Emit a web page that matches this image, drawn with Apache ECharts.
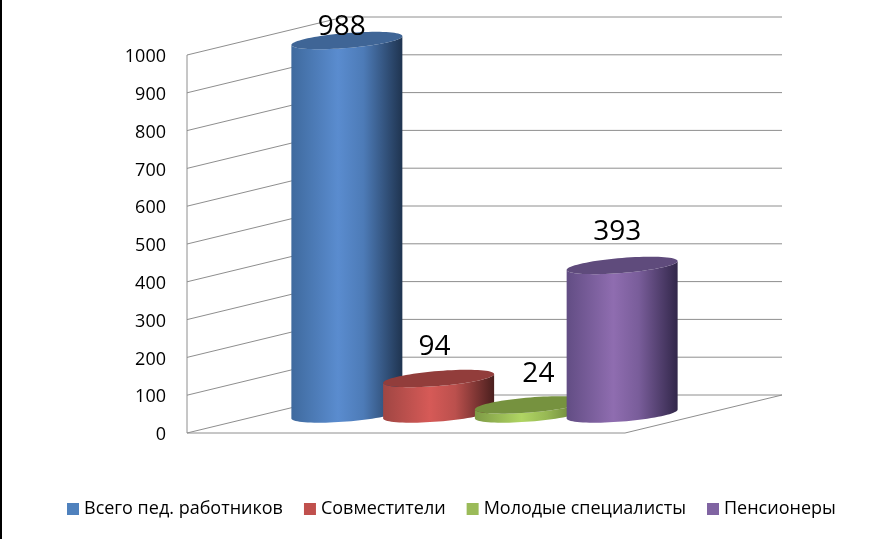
<!DOCTYPE html>
<html><head><meta charset="utf-8">
<style>html,body{margin:0;padding:0;background:#fff}#c{width:896px;height:539px}</style>
<script src="https://cdn.jsdelivr.net/npm/echarts@6/dist/echarts.min.js"></script>
</head><body><div id="c"></div>
<script>
const seriesNames = ['Всего пед. работников','Совместители','Молодые специалисты','Пенсионеры'];
const seriesValues = [988, 94, 24, 393];
const seriesColors = ['#4f81bd','#c0504d','#9bbb59','#8064a2'];
const tickValues = [0,100,200,300,400,500,600,700,800,900,1000];

const DX = 157, DY = 38, GAP = 0.2095, W = 0.2534;
const grads = [
  ['#3f6a9e','#5a8ccf','#1f3450','#3f6596'],
  ['#a04643','#d65a57','#4a1f1e','#923d3b'],
  ['#7d9a45','#b0d563','#5a7030','#76923f'],
  ['#624d84','#8f6db0','#32274a','#5f4b7c']
];
const labelOff = [[-5,-14],[-4,-31],[8,-31],[-5,-33]];
const chart = echarts.init(document.getElementById('c'), null, {renderer:'canvas'});

function ell(cx,cy,a,b,s,from,to,n){
  const p=[];
  for(let k=0;k<=n;k++){const t=from+(to-from)*k/n;
    const x=a*Math.cos(t);
    p.push([cx+x, cy+b*Math.sin(t)-s*x]);}
  return p;
}
function cylinder(i){
  return function(params, api){
    const cs=params.coordSys;
    const band=cs.width;
    const base=api.coord([0,0]);
    const top=api.coord([0,api.value(1)]);
    const cx=cs.x+band/2+(i-1.5)*band*GAP+DX/2;
    const a=band*W/2, b=7.5, s=0.08;
    const by=base[1]-DY/2, ty=top[1]-DY/2;
    const bottomArc=ell(cx,by,a,b,s,Math.PI,0,40);
    const topBack=ell(cx,ty,a,b,s,0,Math.PI,40);
    const g=grads[i];
    const side=new echarts.graphic.LinearGradient(0,0,1,0,[
      {offset:0,color:g[0]},{offset:0.42,color:g[1]},{offset:0.65,color:echarts.color.lerp(0.5,[g[1],g[0]])},{offset:1,color:g[2]}]);
    return {type:'group',children:[
      {type:'polygon',shape:{points:bottomArc.concat(topBack)},style:{fill:side}},
      {type:'polygon',shape:{points:ell(cx,ty,a,b,s,0,Math.PI*2,80)},style:{fill:g[3]}},
      {type:'text',style:{text:String(api.value(1)),x:cx+labelOff[i][0],y:ty+labelOff[i][1],
        align:'center',verticalAlign:'middle',fill:'#000',font:'28px "Open Sans"'}}
    ]};
  };
}
function wall(params, api){
  const cs=params.coordSys, y=api.coord([0,api.value(0)])[1];
  const l=cs.x, r=cs.x+cs.width;
  const st={stroke:'#8e8e8e',lineWidth:1,fill:null};
  const ch=[
    {type:'polyline',shape:{points:[[l,y],[l+DX,y-DY],[r+DX,y-DY]]},style:st}
  ];
  if(api.value(0)===0){
    ch.push({type:'polyline',shape:{points:[[l,y],[r,y],[r+DX,y-DY]]},style:st});
    ch.push({type:'line',shape:{x1:l,y1:y,x2:l,y2:cs.y},style:st});
  }
  return {type:'group',children:ch};
}
const series=[{type:'custom',name:'wall',silent:true,renderItem:wall,clip:false,z:1,
  data:tickValues.map(t=>[t]),encode:{y:0}}];
seriesNames.forEach((n,i)=>series.push({
  type:'custom',name:n,renderItem:cylinder(i),clip:false,z:2+i,
  itemStyle:{color:seriesColors[i]},
  data:[[0,seriesValues[i]]],encode:{x:0,y:1}
}));
chart.setOption({
  animation:false,
  backgroundColor:'#fff',
  grid:{left:187,top:55,width:438,height:378},
  legend:{data:seriesNames.map(n=>({name:n,icon:'rect'})),left:62,top:495,itemWidth:12,itemHeight:12,itemGap:21,
    textStyle:{fontFamily:'"Open Sans"',fontSize:18,color:'#000'}},
  xAxis:{type:'category',data:[''],axisLine:{show:false},axisTick:{show:false},axisLabel:{show:false}},
  yAxis:{type:'value',min:0,max:1000,interval:100,
    axisLine:{show:false},axisTick:{show:false},splitLine:{show:false},
    axisLabel:{margin:21,color:'#000',fontFamily:'"Open Sans"',fontSize:18,verticalAlign:'top',lineHeight:4,formatter:v=>String(v)}},
  graphic:[{type:'rect',shape:{x:0,y:0,width:2,height:539},style:{fill:'#000'}}],
  series
});
</script></body></html>
